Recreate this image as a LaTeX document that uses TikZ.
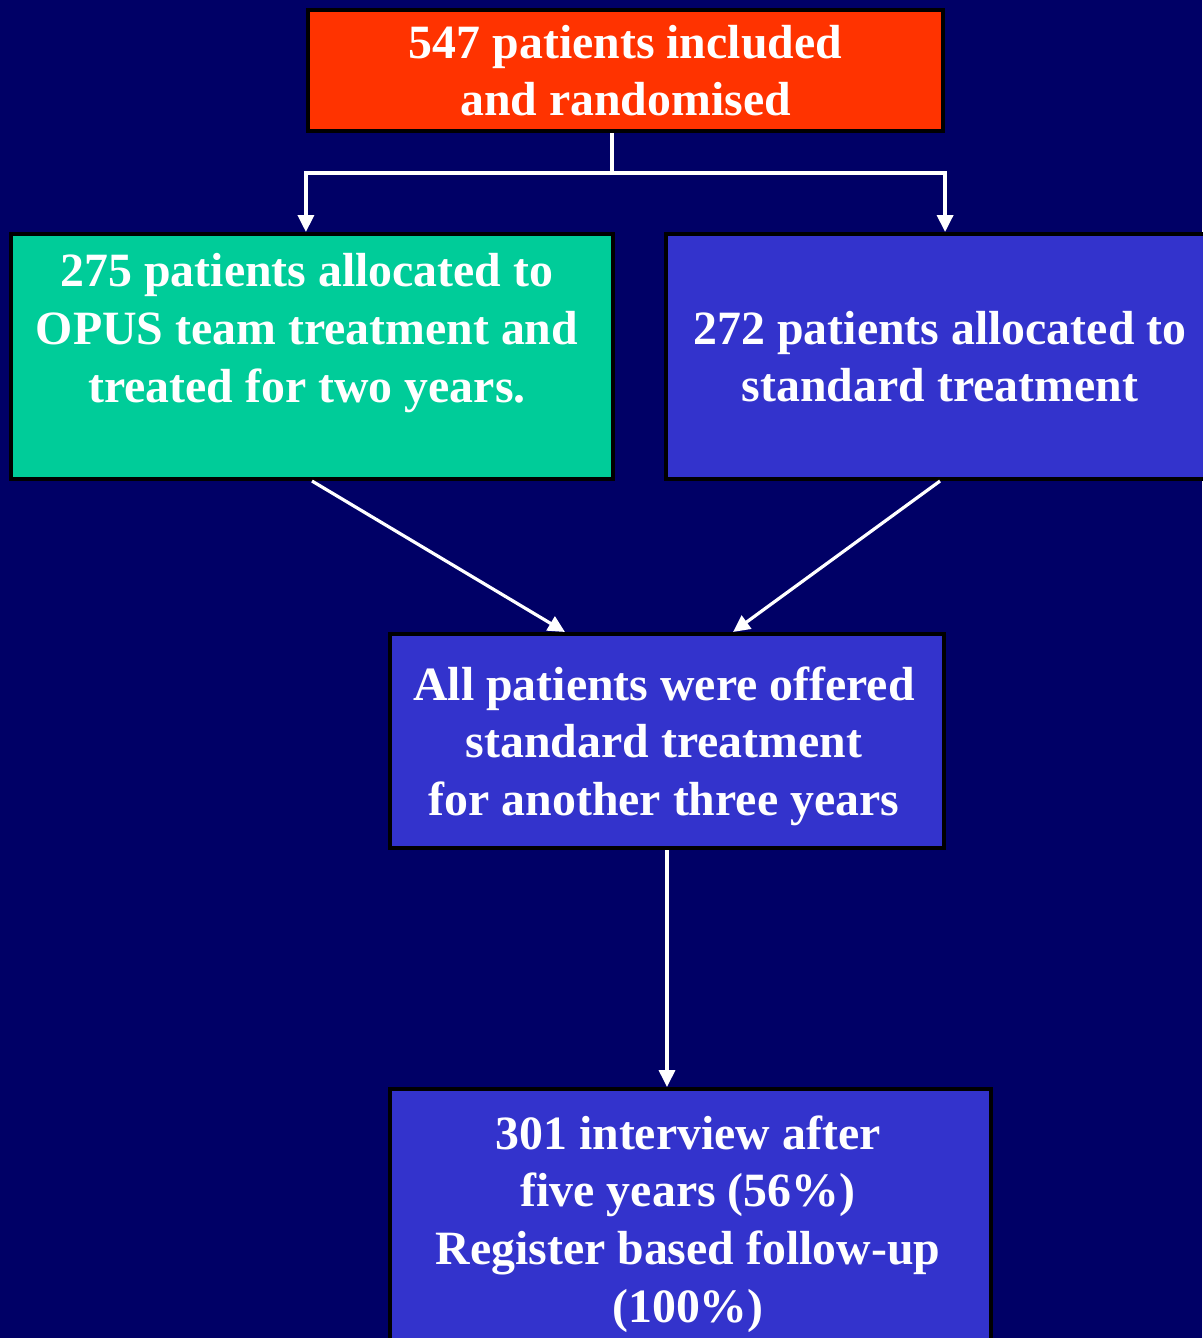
\documentclass[tikz,border=0pt]{standalone}
\usepackage{fontspec}
\setmainfont{Liberation Serif}
\usetikzlibrary{arrows.meta,positioning}
\definecolor{slidebg}{HTML}{000066}
\definecolor{inclred}{HTML}{FF3300}
\definecolor{opusgreen}{HTML}{00CC99}
\definecolor{stdblue}{HTML}{3333CC}
\tikzset
{
    box/.style     = {rectangle, draw=black, line width=0.1cm, text=white, align=center, inner sep=0pt, font=\bfseries\fontsize{34}{41}\selectfont},
    boxtext/.style = {text=white, align=center, inner sep=0pt, font=\bfseries\fontsize{34}{41}\selectfont},
    conn/.style    = {color=white, line width=0.08cm}
}

\begin{document}
\begin{tikzpicture}[x=0.025cm, y=-0.025cm, >={Triangle[width=0.4cm,length=0.42cm]}]
\fill[slidebg] (0,0) rectangle (1202,1338);
\useasboundingbox (0,0) rectangle (1202,1338);

\node (incl)      [box, fill=inclred, minimum width=15.875cm, minimum height=3.025cm]    at (625.5,70.5)   {547 patients included\\and randomised};
\node (opus)      [box, fill=opusgreen, minimum width=15.05cm, minimum height=6.125cm]   at (312,356.5)    {};
\node (opustext)  [boxtext]                                                              at (307,333)      {275 patients allocated to\\OPUS team treatment and\\treated for two years.};
\node (standard)  [box, fill=stdblue, minimum width=13.7cm, minimum height=6.125cm]      at (940,356.5)    {272 patients allocated to\\standard treatment};
\node (offered)   [box, fill=stdblue, minimum width=13.85cm, minimum height=5.35cm]      at (667,741)      {};
\node (offertext) [boxtext]                                                              at (664,746)      {All patients were offered\\standard treatment\\for another three years};
\node (followup)  [box, fill=stdblue, minimum width=15.025cm, minimum height=6.525cm]    at (690.5,1219.5) {};
\node (folltext)  [boxtext]                                                              at (688,1224)     {301 interview after\\five years (56\%)\\Register based follow-up\\(100\%)};

%% split below the randomisation box
\coordinate (split) at (612,173);
\draw[conn] (incl.south -| split) -- (split);
\draw[conn,->] (split) -| (incl.south west |- opus.north);
\draw[conn,->] (split) -| (incl.south east |- standard.north);

\draw[conn]
(opus.south)      edge[->]  ([xshift=-2.55cm]offered.north)
(standard.south)  edge[->]  ([xshift=1.65cm]offered.north)
(offered.south)   edge[->]  (offered.south |- followup.north);

\end{tikzpicture}
\end{document}
